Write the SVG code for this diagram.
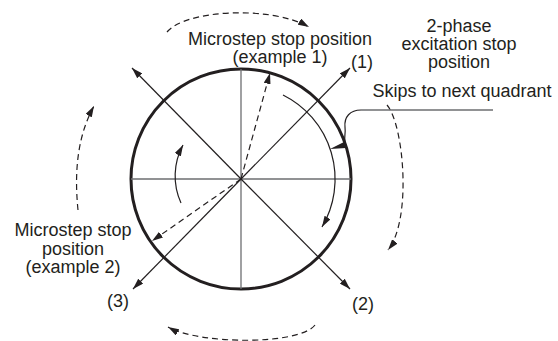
<svg xmlns="http://www.w3.org/2000/svg" width="558" height="341" viewBox="0 0 558 341">
<defs>
<style>
.t{font-family:"Liberation Sans",Arial,sans-serif;font-size:18px;fill:#231f20;text-anchor:middle}
.ln{fill:none;stroke:#231f20;stroke-width:1.2}
.ax{fill:none;stroke:#6d6e71;stroke-width:1.3}
.ds{fill:none;stroke:#231f20;stroke-width:1.2;stroke-dasharray:6 4}
</style>
<marker id="ah" markerUnits="userSpaceOnUse" markerWidth="11" markerHeight="7" refX="11" refY="3.5" orient="auto">
<path d="M0,0 L11,3.5 L0,7 z" fill="#231f20"/>
</marker>
</defs>
<rect width="558" height="341" fill="#fff"/>
<g id="rotor">
<circle cx="241" cy="179" r="110" fill="none" stroke="#231f20" stroke-width="3"/>
<line class="ax" x1="131" y1="179" x2="351" y2="179"/>
<line class="ax" x1="241" y1="69" x2="241" y2="289"/>
</g>
<g id="connectors">
<line class="ln" x1="241" y1="179" x2="350" y2="68" marker-end="url(#ah)"/>
<line class="ln" x1="241" y1="179" x2="132" y2="68" marker-end="url(#ah)"/>
<line class="ln" x1="241" y1="179" x2="133" y2="289" marker-end="url(#ah)"/>
<line class="ln" x1="241" y1="179" x2="350" y2="289" marker-end="url(#ah)"/>
<line class="ds" x1="241" y1="179" x2="270" y2="73" marker-end="url(#ah)"/>
<line class="ds" x1="241" y1="179" x2="152" y2="241" marker-end="url(#ah)"/>
<path class="ln" d="M283,95 A94,94 0 0 1 322,227" marker-end="url(#ah)"/>
<path class="ln" d="M181,203 A65,65 0 0 1 183,145" marker-end="url(#ah)"/>
<path class="ds" d="M167,32 C185,10 270,5 309,27" marker-end="url(#ah)"/>
<path class="ds" d="M387,105 C404,125 412,220 388,250" marker-end="url(#ah)"/>
<path class="ds" d="M315,325 C300,345 200,345 168,327" marker-end="url(#ah)"/>
<path class="ds" d="M78,210 C74,170 78,135 94,106" marker-end="url(#ah)"/>
<line x1="361" y1="110" x2="493" y2="110" stroke="#6d6e71" stroke-width="1.5"/>
<path class="ln" d="M361,110 C350,110 344,117 345,127 C346,135 343,139 346,145"/>
<polygon points="330,149 344,142 346,148" fill="#231f20"/>
</g>
<g id="labels">
<text class="t" x="280" y="45">Microstep stop position</text>
<text class="t" x="280" y="63">(example 1)</text>
<text class="t" x="459" y="32">2-phase</text>
<text class="t" x="459" y="50">excitation stop</text>
<text class="t" x="459" y="68">position</text>
<text class="t" x="462" y="97">Skips to next quadrant</text>
<text class="t" x="362" y="68">(1)</text>
<text class="t" x="363" y="310">(2)</text>
<text class="t" x="118" y="307">(3)</text>
<text class="t" x="73" y="236">Microstep stop</text>
<text class="t" x="73" y="255">position</text>
<text class="t" x="73" y="273">(example 2)</text>
</g>
</svg>
